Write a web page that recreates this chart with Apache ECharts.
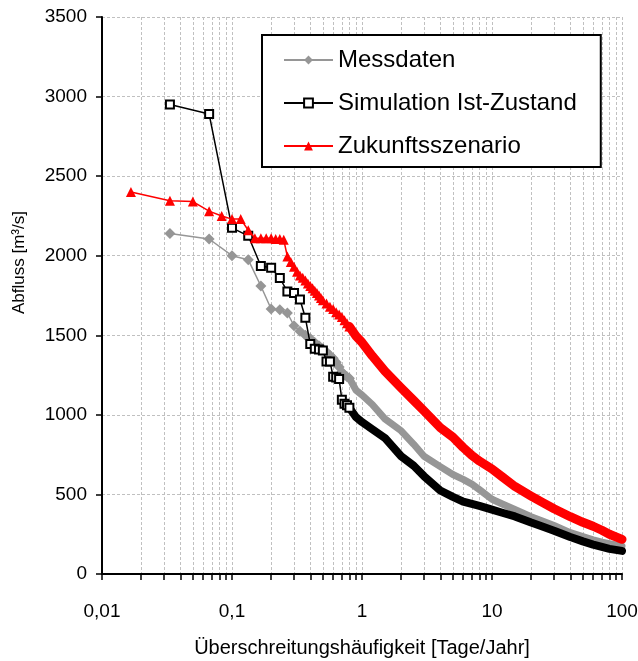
<!DOCTYPE html>
<html><head><meta charset="utf-8">
<script src="https://cdn.jsdelivr.net/npm/echarts@6/dist/echarts.min.js"></script>
<style>html,body{margin:0;padding:0;background:#fff}#c{width:638px;height:661px}</style>
</head><body><div id="c"></div>
<script>
// ---- names / labels ----
const seriesNames = ['Messdaten', 'Simulation Ist-Zustand', 'Zukunftsszenario'];
const xAxisTitle = 'Überschreitungshäufigkeit [Tage/Jahr]';
const yAxisTitle = 'Abfluss [m³/s]';
const xLabelValues = [0.01, 0.1, 1, 10, 100];
const xTickValues = [0.01,0.02,0.03,0.04,0.05,0.06,0.07,0.08,0.09,
  0.1,0.2,0.3,0.4,0.5,0.6,0.7,0.8,0.9,
  1,2,3,4,5,6,7,8,9,
  10,20,30,40,50,60,70,80,90,100];

// ---- Messdaten ----
const messSparseX = [0.0333,0.0667,0.1,0.1333,0.1667,0.2,0.2333,0.2667,0.3,0.3333,0.3667,0.4,0.4333,0.4667,0.5,0.5333,0.5667,0.6,0.6333,0.6667,0.7,0.7333,0.7667,0.8];
const messSparseY = [2140,2105,2000,1975,1810,1665,1660,1640,1560,1525,1500,1480,1455,1435,1415,1395,1375,1355,1330,1300,1270,1250,1240,1230];
const messDenseX = [0.8,0.9,1,1.2,1.5,2,2.5,3,4,5,6,7,8,10,12,15,20,25,30,40,50,60,70,80,100];
const messDenseY = [1230,1155,1125,1065,975,900,815,740,675,625,595,565,530,470,440,405,360,330,305,260,235,215,200,190,175];

// ---- Simulation Ist-Zustand ----
const simSparseX = [0.0333,0.0667,0.1,0.1333,0.1667,0.2,0.2333,0.2667,0.3,0.3333,0.3667,0.4,0.4333,0.4667,0.5,0.5333,0.5667,0.6,0.6333,0.6667,0.7,0.7333,0.7667,0.8];
const simSparseY = [2950,2890,2175,2125,1935,1925,1860,1775,1765,1725,1610,1445,1415,1410,1405,1335,1335,1240,1235,1225,1095,1070,1060,1045];
const simDenseX = [0.8,0.9,1,1.2,1.5,2,2.5,3,4,5,6,7,8,10,12,15,20,25,30,40,50,60,70,80,100];
const simDenseY = [1045,985,955,910,855,740,680,615,525,485,455,440,428,405,385,362,323,295,272,232,205,185,170,158,145];

// ---- Zukunftsszenario ----
const zukSparseX = [0.0167,0.0333,0.05,0.0667,0.0833,0.1,0.1167,0.1333,0.15,0.1667,0.1833,0.2,0.2167,0.2333,0.25,0.2667,0.2833,0.3,0.3167,0.3333,0.35,0.3667,0.3833,0.4,0.4167,0.4333,0.45,0.4667,0.4833,0.5,0.5333,0.5667,0.6,0.6333,0.6667,0.7,0.7333,0.7667,0.8];
const zukSparseY = [2400,2345,2340,2280,2250,2230,2230,2160,2110,2110,2110,2110,2105,2105,2100,1995,1960,1930,1900,1875,1862,1845,1825,1810,1795,1780,1765,1750,1735,1720,1700,1680,1665,1645,1630,1615,1595,1575,1555];
const zukDenseX = [0.8,0.9,1,1.2,1.5,2,2.5,3,4,5,6,7,8,10,12,15,20,25,30,40,50,60,70,80,100];
const zukDenseY = [1555,1495,1455,1370,1275,1170,1090,1025,920,860,795,745,710,660,610,550,490,445,410,360,325,300,275,250,218];

function zip(xs, ys) { return xs.map((x, i) => [x, ys[i]]); }

const FONT = "'Liberation Sans', Arial, sans-serif";
const GREY = '#969696', BLACK = '#000000', RED = '#ff0000';

const chart = echarts.init(document.getElementById('c'), null, {renderer: 'canvas'});
chart.setOption({
  animation: false,
  backgroundColor: '#ffffff',
  textStyle: {fontFamily: FONT},
  grid: {left: 102, right: 16, top: 17, bottom: 87, containLabel: false, outerBoundsMode: 'none'},
  legend: {
    orient: 'vertical', left: 262, top: 35,
    padding: [13, 24, 9, 21],
    itemGap: 19, itemWidth: 49, itemHeight: 11,
    backgroundColor: '#ffffff', borderColor: '#000', borderWidth: 2, borderRadius: 0,
    textStyle: {fontSize: 24, color: '#000', fontFamily: FONT, lineHeight: 23},
    data: seriesNames
  },
  xAxis: {
    type: 'log', logBase: 10, min: 0.01, max: 100,
    name: xAxisTitle, nameLocation: 'middle', nameGap: 64,
    nameTextStyle: {fontSize: 20, color: '#000', fontFamily: FONT},
    axisLine: {show: true, lineStyle: {color: '#000', width: 2}},
    axisTick: {show: true, inside: false, length: 6, customValues: xTickValues, lineStyle: {color: '#000', width: 1.5}},
    axisLabel: {customValues: xLabelValues, fontSize: 19, color: '#000', margin: 28, fontFamily: FONT,
      formatter: v => String(Number(Number(v).toPrecision(6))).replace('.', ',')},
    splitLine: {show: true, lineStyle: {color: '#c0c0c0', width: 1, type: [3, 2]}},
    minorTick: {show: false}, minorSplitLine: {show: false}
  },
  yAxis: {
    type: 'value', min: 0, max: 3500, interval: 500,
    name: yAxisTitle, nameLocation: 'middle', nameGap: 74, nameRotate: 90,
    nameTextStyle: {fontSize: 17, color: '#000', fontFamily: FONT, padding: [0, 0, 0, 66]},
    axisLine: {show: true, lineStyle: {color: '#000', width: 2}},
    axisTick: {show: true, inside: false, length: 6, lineStyle: {color: '#000', width: 1.5}},
    axisLabel: {fontSize: 19, color: '#000', margin: 15, fontFamily: FONT, formatter: v => String(v)},
    splitLine: {show: true, lineStyle: {color: '#c0c0c0', width: 1, type: [3, 2]}}
  },
  series: [
    {name: seriesNames[0], type: 'line', data: zip(messSparseX, messSparseY),
      symbol: 'diamond', symbolSize: 11, showAllSymbol: true,
      itemStyle: {color: GREY}, lineStyle: {color: GREY, width: 1.5}, z: 2},
    {name: seriesNames[0], type: 'line', data: zip(messDenseX, messDenseY),
      symbol: 'none', lineStyle: {color: GREY, width: 7, join: 'round', cap: 'round'}, z: 2},
    {name: seriesNames[1], type: 'line', data: zip(simSparseX, simSparseY),
      symbol: 'emptyRect', symbolSize: 8, showAllSymbol: true,
      itemStyle: {color: BLACK, borderColor: BLACK, borderWidth: 2}, lineStyle: {color: BLACK, width: 1.5}, z: 3},
    {name: seriesNames[1], type: 'line', data: zip(simDenseX, simDenseY),
      symbol: 'none', lineStyle: {color: BLACK, width: 8, join: 'round', cap: 'round'}, z: 3},
    {name: seriesNames[2], type: 'line', data: zip(zukSparseX, zukSparseY),
      symbol: 'triangle', symbolSize: 10, showAllSymbol: true,
      itemStyle: {color: RED}, lineStyle: {color: RED, width: 1.5}, z: 4},
    {name: seriesNames[2], type: 'line', data: zip(zukDenseX, zukDenseY),
      symbol: 'none', lineStyle: {color: RED, width: 9, join: 'round', cap: 'round'}, z: 4}
  ]
});
</script>
</body></html>
